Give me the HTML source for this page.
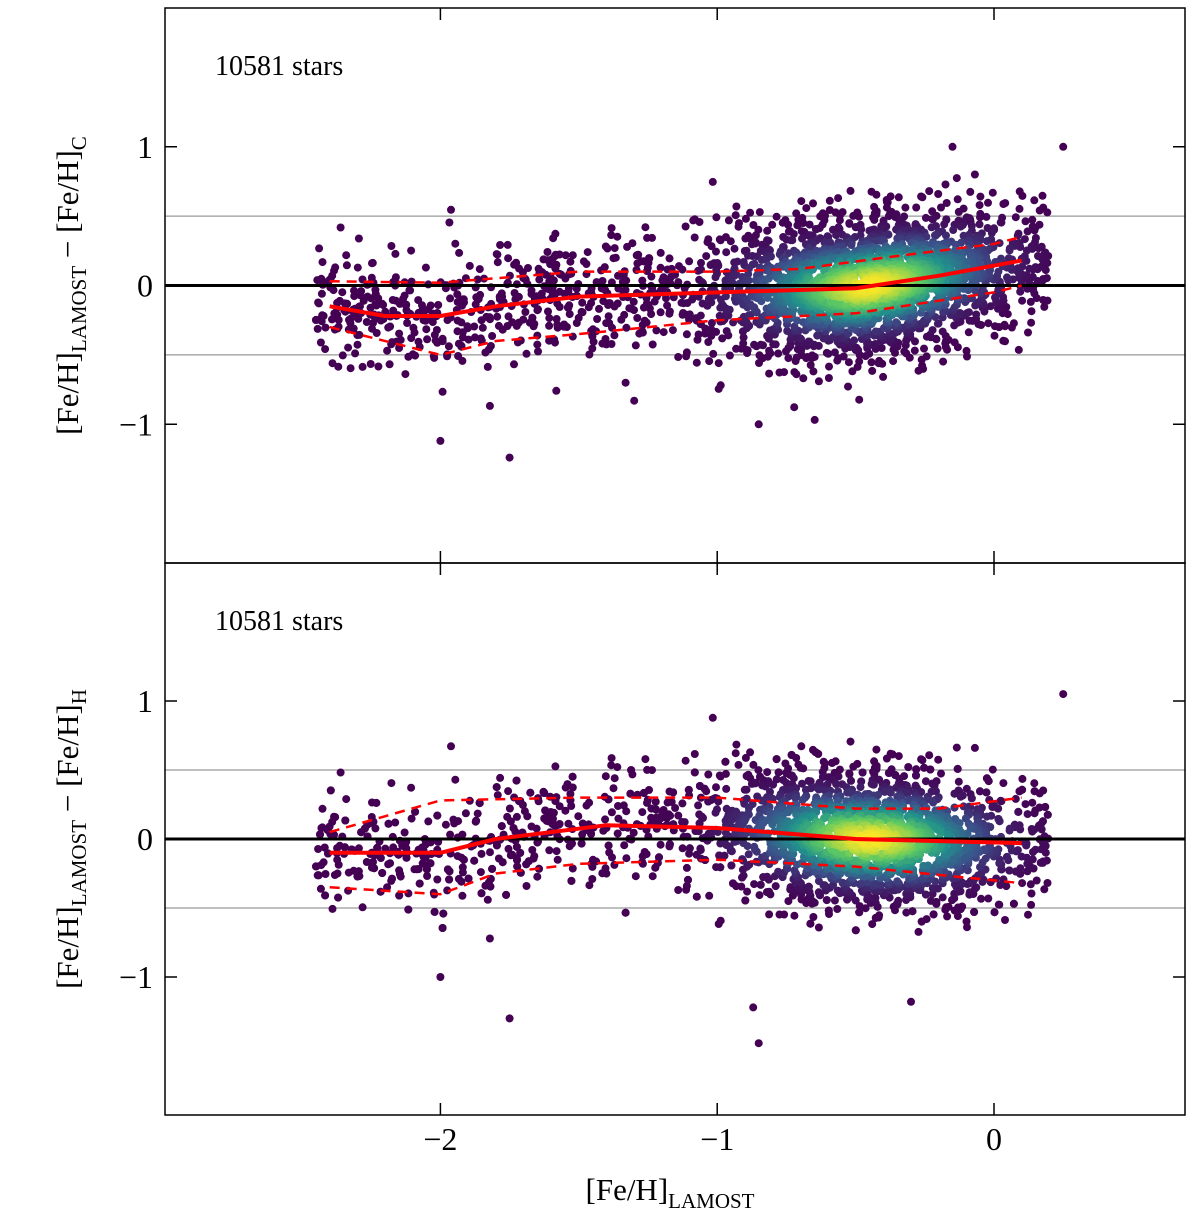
<!DOCTYPE html>
<html><head><meta charset="utf-8"><style>
body{margin:0;background:#fff;}
svg{display:block;font-family:"Liberation Serif",serif;}
</style></head><body>
<svg id="chart" width="1200" height="1218" viewBox="0 0 1200 1218" xmlns="http://www.w3.org/2000/svg"></svg>
<script>
// ---- data ----
const xTicks=[-2,-1,0];
const yTicks=[1,0,-1];
const tickLabelsX=["\u22122","\u22121","0"];
const tickLabelsY=["1","0","\u22121"];
const starCount="10581 stars";
const topMedX=[-2.4,-2.2,-2.0,-1.8,-1.5,-1.0,-0.5,-0.2,0.1];
const topMedY=[-0.15,-0.22,-0.22,-0.15,-0.08,-0.05,-0.02,0.07,0.18];
const topUpX=[-2.4,-2.0,-1.5,-1.0,-0.7,-0.4,0.0,0.1];
const topUpY=[0.03,0.02,0.1,0.1,0.12,0.2,0.3,0.35];
const topLoX=[-2.4,-2.0,-1.8,-1.5,-1.0,-0.5,0.0,0.1];
const topLoY=[-0.3,-0.5,-0.4,-0.35,-0.25,-0.2,-0.05,0.0];
const botMedX=[-2.4,-2.0,-1.8,-1.4,-1.0,-0.5,0.1];
const botMedY=[-0.1,-0.1,0.0,0.1,0.08,0.0,-0.03];
const botUpX=[-2.4,-2.0,-1.5,-1.0,-0.5,-0.2,0.1];
const botUpY=[0.05,0.28,0.3,0.3,0.22,0.22,0.3];
const botLoX=[-2.4,-2.0,-1.8,-1.5,-1.0,-0.5,0.0,0.1];
const botLoY=[-0.35,-0.4,-0.25,-0.18,-0.15,-0.2,-0.3,-0.32];
const topOutX=[-2.0,-1.75,-0.85,-1.3,0.25,-0.15];
const topOutY=[-1.12,-1.24,-1.0,-0.83,1.0,1.0];
const botOutX=[-2.0,-1.75,-0.85,-0.87,0.25,-0.3];
const botOutY=[-1.0,-1.3,-1.48,-1.22,1.05,-1.18];

const NS="http://www.w3.org/2000/svg";
const svg=document.getElementById('chart');
function mk(tag,attrs,parent){const e=document.createElementNS(NS,tag);for(const k in attrs)e.setAttribute(k,attrs[k]);(parent||svg).appendChild(e);return e;}
const X0=165,X1=1185;
const xs=v=>X0+(v-(-2.995))/(0.69+2.995)*(X1-X0);
function viridis(t){const c=[[68,1,84],[59,82,139],[33,145,140],[94,201,98],[253,231,37]];t=Math.max(0,Math.min(1,t))*4;const i=Math.min(3,Math.floor(t)),f=t-i;return `rgb(${c[i].map((a,k)=>Math.round(a+(c[i+1][k]-a)*f)).join(',')})`;}
function interp(ax,ay,x){if(x<=ax[0])return ay[0];for(let i=1;i<ax.length;i++)if(x<=ax[i]){const f=(x-ax[i-1])/(ax[i]-ax[i-1]);return ay[i-1]+f*(ay[i]-ay[i-1]);}return ay[ay.length-1];}
let seed=12345;function rnd(){seed=(seed*1103515245+12345)%2147483648;return seed/2147483648;}
function gauss(){return Math.sqrt(-2*Math.log(rnd()+1e-9))*Math.cos(2*Math.PI*rnd());}

function panel(name,T,B,medX,medY,upX,upY,loX,loY,outX,outY,sub){
  const ys=v=>(T+B)/2-v*(B-T)/4;
  const g=mk('g',{});
  const clip='clip-'+name;const cp=mk('clipPath',{id:clip},g);mk('rect',{x:X0,y:T,width:X1-X0,height:B-T},cp);
  const pg=mk('g',{'clip-path':`url(#${clip})`},g);
  [0.5,-0.5].forEach(v=>{const l=mk('line',{x1:X0,x2:X1,y1:ys(v),y2:ys(v),stroke:'#999','stroke-width':1.2},pg);});
  const pts=[];
  for(let i=0;i<3000;i++){let x,sd;if(rnd()<0.62){x=-0.45+gauss()*0.24;sd=0.25;}else{x=-2.45+rnd()*2.65;sd=0.21;}
    if(x<-2.5||x>0.25)continue;const m=interp(medX,medY,x);const y=m+gauss()*sd;
    const d=Math.exp(-Math.pow((x+0.45)/0.28,2)/2-Math.pow((y-m)/0.2,2)/2);pts.push([x,y,d]);}
  for(let i=0;i<outX.length;i++)pts.push([outX[i],outY[i],0]);
  pts.sort((a,b)=>a[2]-b[2]);
  const sg=mk('g',{},pg);
  pts.forEach(p=>mk('circle',{cx:xs(p[0]).toFixed(1),cy:ys(p[1]).toFixed(1),r:4,fill:viridis(Math.pow(p[2],1.4))},sg));
  const zl=mk('line',{x1:X0,x2:X1,y1:ys(0),y2:ys(0),stroke:'#000','stroke-width':3},pg);
  const line=(ax,ay,dash,nm)=>{const p=mk('polyline',{points:ax.map((x,i)=>xs(x).toFixed(1)+','+ys(ay[i]).toFixed(1)).join(' '),fill:'none',stroke:'#f00','stroke-width':dash?2.5:4,'stroke-dasharray':dash?'10,7':'none','stroke-linejoin':'round'},pg);};
  line(upX,upY,true,'upper-dispersion-line');line(loX,loY,true,'lower-dispersion-line');line(medX,medY,false,'median-line');
  const fr=mk('rect',{x:X0,y:T,width:X1-X0,height:B-T,fill:'none',stroke:'#000','stroke-width':1.5},g);
  xTicks.forEach(v=>{mk('line',{x1:xs(v),x2:xs(v),y1:B,y2:B-12,stroke:'#000','stroke-width':1.5},g);mk('line',{x1:xs(v),x2:xs(v),y1:T,y2:T+12,stroke:'#000','stroke-width':1.5},g);});
  yTicks.forEach((v,i)=>{mk('line',{x1:X0,x2:X0+12,y1:ys(v),y2:ys(v),stroke:'#000','stroke-width':1.5},g);mk('line',{x1:X1,x2:X1-12,y1:ys(v),y2:ys(v),stroke:'#000','stroke-width':1.5},g);
    const t=mk('text',{x:X0-12,y:ys(v)+11,'text-anchor':'end','font-size':32},g);t.textContent=tickLabelsY[i];});
  const st=mk('text',{x:215,y:T+67,'font-size':28},g);st.textContent=starCount;
  const yl=mk('text',{transform:`translate(78,${(T+B)/2}) rotate(-90)`,'text-anchor':'middle','font-size':31},g);
  
  yl.innerHTML=`[Fe/H]<tspan dy="8" font-size="21">LAMOST</tspan><tspan dy="-8"> \u2212 [Fe/H]</tspan><tspan dy="8" font-size="21">${sub}</tspan>`;
}
panel('top-panel',8,563,topMedX,topMedY,topUpX,topUpY,topLoX,topLoY,topOutX,topOutY,'C');
panel('bottom-panel',563,1115,botMedX,botMedY,botUpX,botUpY,botLoX,botLoY,botOutX,botOutY,'H');
xTicks.forEach((v,i)=>{const t=mk('text',{x:xs(v),y:1150,'text-anchor':'middle','font-size':32});t.textContent=tickLabelsX[i];});
const xl=mk('text',{x:670,y:1200,'text-anchor':'middle','font-size':31});

xl.innerHTML='[Fe/H]<tspan dy="8" font-size="21">LAMOST</tspan>';
</script>
</body></html>
